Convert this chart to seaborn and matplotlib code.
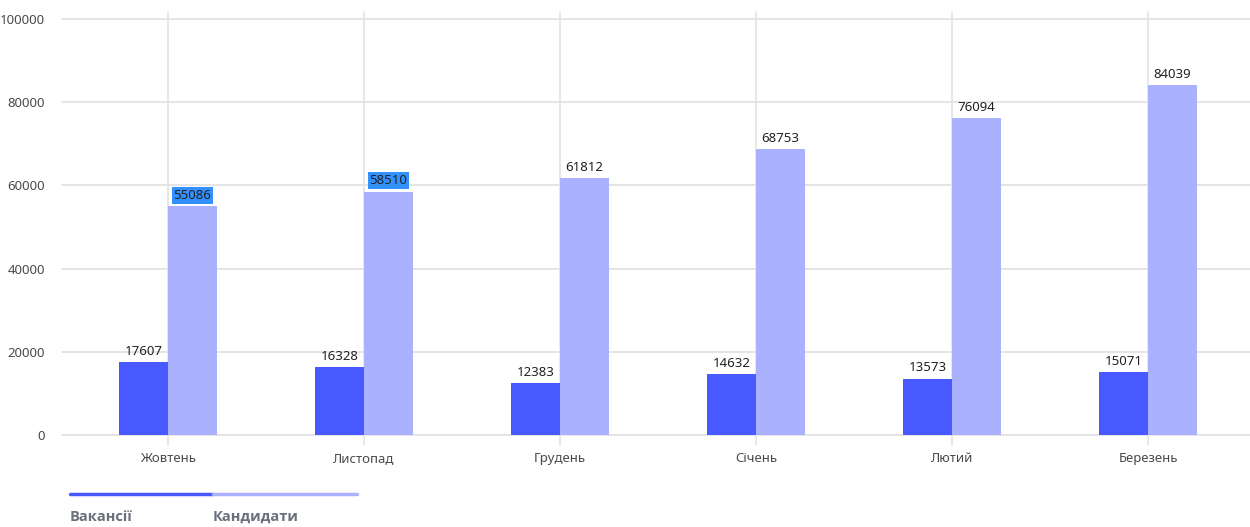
import matplotlib
matplotlib.use("Agg")
import matplotlib.pyplot as plt
import seaborn as sns
import pandas as pd
from matplotlib.lines import Line2D

months = ["Жовтень", "Листопад", "Грудень", "Січень", "Лютий", "Березень"]
vacancies = [17607, 16328, 12383, 14632, 13573, 15071]
candidates = [55086, 58510, 61812, 68753, 76094, 84039]
series_names = ["Вакансії", "Кандидати"]
y_ticks = [0, 20000, 40000, 60000, 80000, 100000]
highlighted = [55086, 58510]

colors = ["#4859FF", "#AAB2FF"]

sns.set_theme(style="white")
plt.rcParams["font.family"] = ["Noto Sans", "DejaVu Sans"]

df = pd.DataFrame({
    "month": months * 2,
    "value": vacancies + candidates,
    "series": [series_names[0]] * len(months) + [series_names[1]] * len(months),
})

fig = plt.figure(figsize=(12.5, 5.27), dpi=100)
ax = fig.add_axes([62 / 1250, 1 - 435 / 527, (1250 - 62) / 1250, (435 - 19) / 527])

sns.barplot(data=df, x="month", y="value", hue="series", order=months,
            hue_order=series_names, palette=colors, width=0.5, gap=0,
            saturation=1, legend=False, ax=ax, edgecolor="none", zorder=2)

ax.set_xlim(-0.541, 5.52)
ax.set_ylim(0, 100000)
ax.set_yticks(y_ticks)
ax.set_yticklabels([str(t) for t in y_ticks])
for t in y_ticks:
    ax.axhline(t, color="#e0e0e0", lw=1.2, zorder=1, clip_on=False)
for i in range(len(months)):
    ax.axvline(i, ymin=-0.024, ymax=1.017, color="#e3e3e3", lw=1.2, zorder=1, clip_on=False)
for s in ax.spines.values():
    s.set_visible(False)
ax.tick_params(axis="y", length=0, pad=12, labelsize=9.5, labelcolor="#4a4a4a")
ax.tick_params(axis="x", length=0, pad=12, labelsize=9.5, labelcolor="#4a4a4a")
ax.set_xlabel("")
ax.set_ylabel("")

for container in ax.containers:
    for bar in container:
        h = bar.get_height()
        x = bar.get_x() + bar.get_width() / 2
        kw = {}
        if int(round(h)) in highlighted:
            kw["bbox"] = dict(boxstyle="square,pad=0.15", facecolor="#3390FF", edgecolor="none")
        ax.annotate(f"{int(round(h))}", (x, h), xytext=(0, 3), textcoords="offset points",
                    ha="center", va="bottom", fontsize=9.5, color="#222222", **kw)

# custom legend
y_line = 1 - 494 / 527
fig.add_artist(Line2D([70 / 1250, 213 / 1250], [y_line, y_line], color=colors[0], lw=2.5,
                      transform=fig.transFigure))
fig.add_artist(Line2D([213 / 1250, 357 / 1250], [y_line, y_line], color=colors[1], lw=2.5,
                      transform=fig.transFigure))
for xpos, name in zip([70, 213], series_names):
    fig.text(xpos / 1250, 1 - 517 / 527, name, fontsize=10.5, fontweight="bold",
             color="#6b6f7a", va="center", ha="left", family=["Open Sans", "DejaVu Sans"])

fig.savefig("out.png", dpi=100)
